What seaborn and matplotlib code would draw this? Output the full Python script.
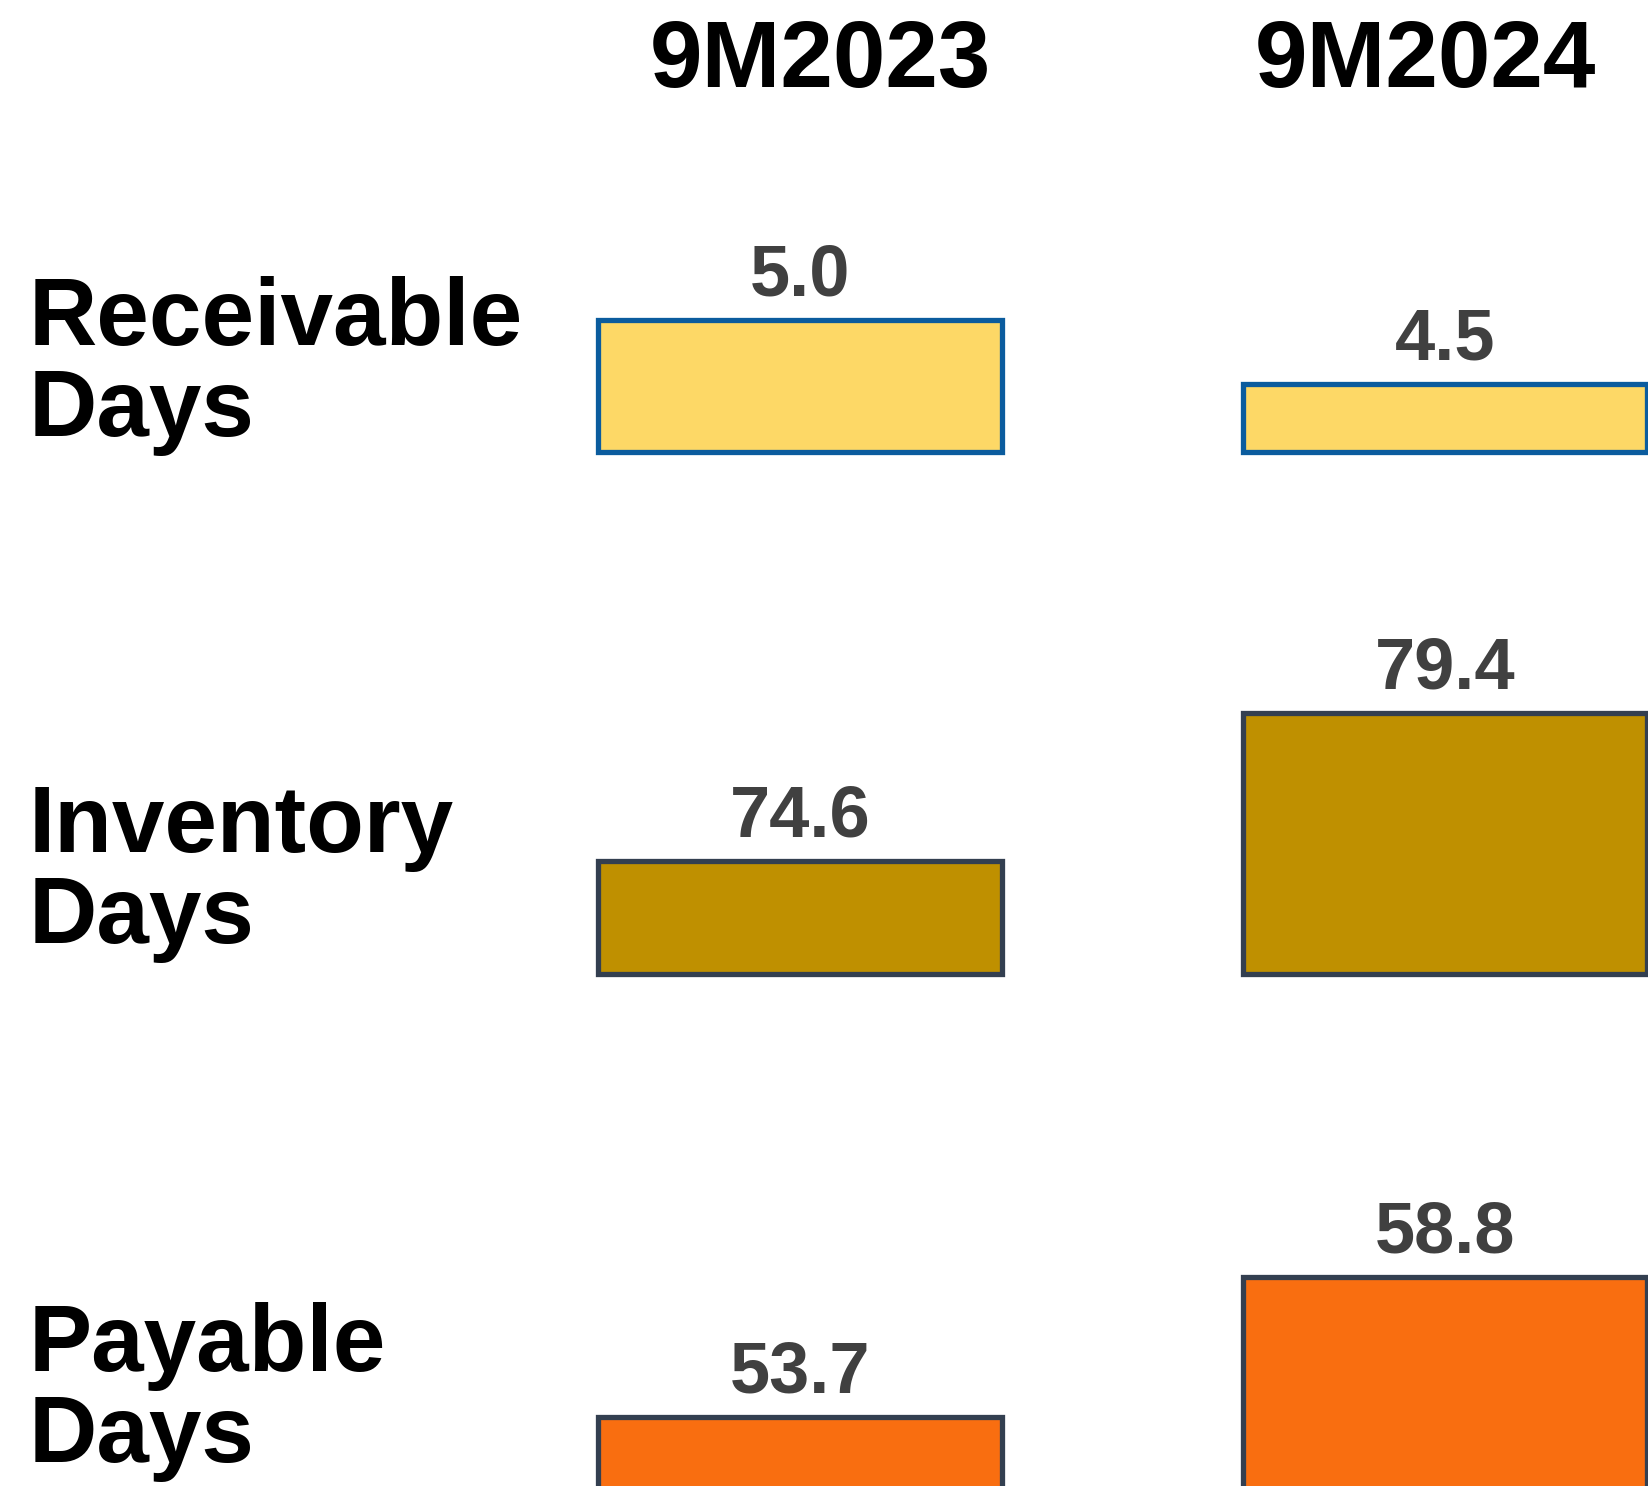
import pandas as pd
import matplotlib.pyplot as plt
import seaborn as sns

# data
periods = ['9M2023', '9M2024']
metrics = ['Receivable\nDays', 'Inventory\nDays', 'Payable\nDays']
receivable_days = [5.0, 4.5]
inventory_days = [74.6, 79.4]
payable_days = [53.7, 58.8]

sns.set_theme(style='white')
plt.rcParams['font.family'] = ['Liberation Sans', 'DejaVu Sans']

W, H = 1649, 1486
fig = plt.figure(figsize=(W / 100, H / 100), dpi=100)

# each row gets its own cut y axis: values, fill, edge, ylim, bottom px, top px
rows = [
    (receivable_days, '#FDD866', '#0B5C9E', (3.97, 5.94), 452, 200),
    (inventory_days, '#BF9000', '#333F50', (70.93, 82.42), 974, 620),
    (payable_days, '#F96E10', '#333F50', (48.49, 63.43), 1560, 1150),
]
# baseline of the second line ("Days")
label_baselines = [436, 943, 1462]

for (vals, fill, edge, ylim, y_bot, y_top), name, lab_y in zip(rows, metrics, label_baselines):
    ax = fig.add_axes([477.5 / W, 1 - y_bot / H, 1290 / W, (y_bot - y_top) / H])
    df = pd.DataFrame({'period': periods, 'days': vals})
    sns.barplot(data=df, x='period', y='days', color=fill, edgecolor=edge,
                linewidth=3.8, width=0.627, saturation=1, ax=ax)
    ax.set_ylim(*ylim)
    # start bars at the cut instead of zero
    for p in ax.patches:
        top = p.get_height()
        p.set_y(ylim[0])
        p.set_height(top - ylim[0])
        p.set_clip_on(False)
    ax.bar_label(ax.containers[0], fmt='%.1f', padding=7, fontsize=52,
                 fontweight='bold', color='#404040')
    ax.set_xlim(-0.5, 1.5)
    ax.axis('off')
    fig.text(29 / W, 1 - lab_y / H, name, fontsize=68, fontweight='bold',
             va='baseline', ha='left', linespacing=1.03, color='black')

# column headers
for per, xc in zip(periods, [820, 1425]):
    fig.text(xc / W, 1 - 87 / H, per, fontsize=68, fontweight='bold',
             ha='center', va='baseline', color='black')

fig.savefig('out.png', dpi=100)
